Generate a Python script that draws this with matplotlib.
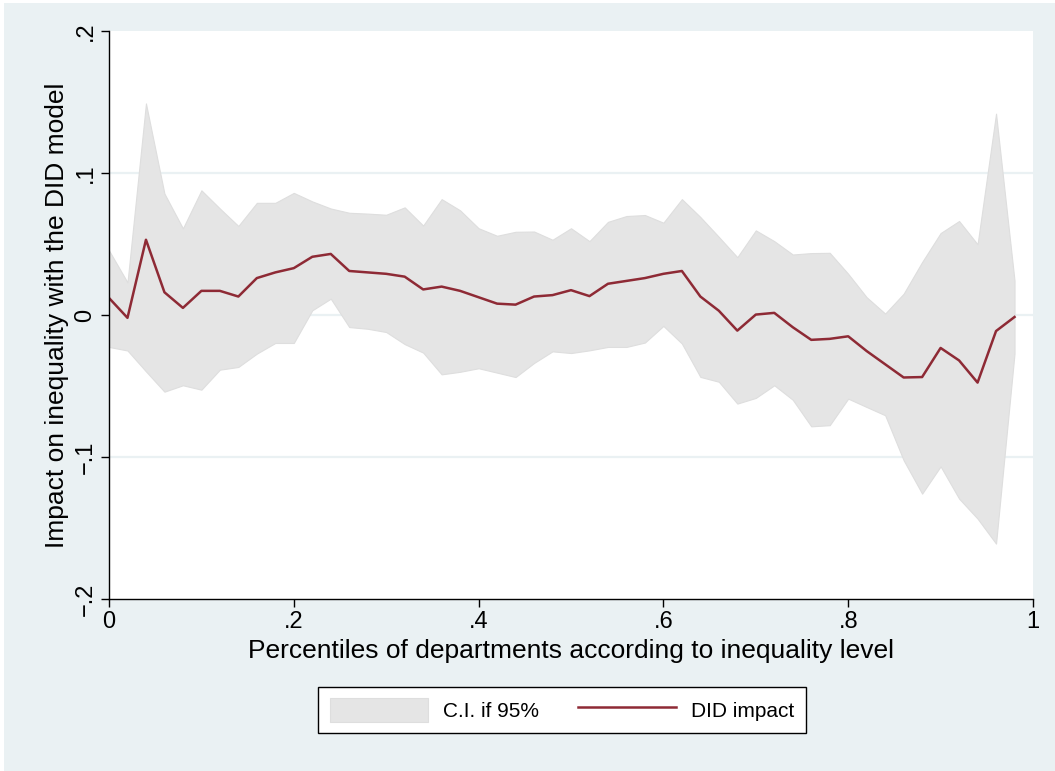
import matplotlib.pyplot as plt
import numpy as np
from matplotlib.patches import Rectangle

plt.rcParams['font.family'] = ['Liberation Sans', 'DejaVu Sans']

# percentiles of departments (0 .. 0.98, step 0.02)
pctile = [0.00, 0.02, 0.04, 0.06, 0.08, 0.10, 0.12, 0.14, 0.16, 0.18,
          0.20, 0.22, 0.24, 0.26, 0.28, 0.30, 0.32, 0.34, 0.36, 0.38,
          0.40, 0.42, 0.44, 0.46, 0.48, 0.50, 0.52, 0.54, 0.56, 0.58,
          0.60, 0.62, 0.64, 0.66, 0.68, 0.70, 0.72, 0.74, 0.76, 0.78,
          0.80, 0.82, 0.84, 0.86, 0.88, 0.90, 0.92, 0.94, 0.96, 0.98]

did_impact = [0.012, -0.002, 0.053, 0.016, 0.005, 0.017, 0.017, 0.013, 0.026, 0.030,
              0.033, 0.041, 0.043, 0.031, 0.030, 0.029, 0.027, 0.018, 0.020, 0.017,
              0.0125, 0.008, 0.0073, 0.013, 0.014, 0.0175, 0.0133, 0.022, 0.024, 0.026,
              0.029, 0.031, 0.013, 0.003, -0.011, 0.0003, 0.0015, -0.0086, -0.0175, -0.0168,
              -0.015, -0.0254, -0.0347, -0.044, -0.0437, -0.0232, -0.032, -0.0476, -0.0113, -0.0014]

ci_upper = [0.0455, 0.023, 0.149, 0.0855, 0.061, 0.0878, 0.075, 0.0627, 0.079, 0.079,
            0.086, 0.080, 0.075, 0.072, 0.0714, 0.0706, 0.0758, 0.063, 0.0816, 0.0737,
            0.0611, 0.0558, 0.0586, 0.0588, 0.053, 0.0611, 0.052, 0.0656, 0.0697, 0.0704,
            0.065, 0.0816, 0.069, 0.055, 0.0407, 0.0596, 0.052, 0.0426, 0.0436, 0.0438,
            0.029, 0.0125, 0.001, 0.015, 0.0373, 0.0577, 0.0662, 0.0498, 0.1418, 0.0243]

ci_lower = [-0.0225, -0.025, -0.0397, -0.054, -0.0495, -0.0526, -0.0385, -0.0366, -0.0272, -0.0197,
            -0.0197, 0.0033, 0.0115, -0.0085, -0.0097, -0.012, -0.0205, -0.0265, -0.0418, -0.040,
            -0.0375, -0.0406, -0.0437, -0.0338, -0.0256, -0.0268, -0.0249, -0.0225, -0.0225, -0.0194,
            -0.0077, -0.0201, -0.0436, -0.047, -0.0624, -0.0584, -0.0495, -0.0597, -0.0784, -0.0776,
            -0.0589, -0.0648, -0.0706, -0.1023, -0.1258, -0.1066, -0.1293, -0.1434, -0.161, -0.0272]

bg = '#EAF1F3'
fill_col = '#E5E5E5'
line_col = '#8E2A35'

fig = plt.figure(figsize=(10.55, 7.71), dpi=100, facecolor='white')
fig.patches.append(Rectangle((4 / 1055, 0), 1 - 4 / 1055, 1 - 3 / 771,
                             transform=fig.transFigure, facecolor=bg,
                             edgecolor='none', zorder=-10))

ax = fig.add_axes([109 / 1055, 1 - 599 / 771, (1033 - 109) / 1055, (599 - 31) / 771])
ax.set_facecolor('white')

for g in [-0.1, 0.0, 0.1]:
    ax.axhline(g, color=bg, lw=1.6, zorder=0)

ci = ax.fill_between(pctile, ci_lower, ci_upper, facecolor=fill_col,
                     edgecolor='#DEDEDE', lw=0.8, zorder=1, label='C.I. if 95%')
ln, = ax.plot(pctile, did_impact, color=line_col, lw=1.8, zorder=2, label='DID impact')

ax.set_xlim(0, 1)
ax.set_ylim(-0.2, 0.2)
ax.set_xticks([0, 0.2, 0.4, 0.6, 0.8, 1])
ax.set_xticklabels(['0', '.2', '.4', '.6', '.8', '1'])
ax.set_yticks([-0.2, -0.1, 0, 0.1, 0.2])
ax.set_yticklabels(['\u2212.2', '\u2212.1', '0', '.1', '.2'], rotation=90, va='center')

for s in ['top', 'right']:
    ax.spines[s].set_visible(False)
for s in ['left', 'bottom']:
    ax.spines[s].set_color('black')
    ax.spines[s].set_linewidth(1.0)
ax.tick_params(direction='out', length=6, width=1.0, colors='black',
               labelsize=17, pad=3)

ax.set_xlabel('Percentiles of departments according to inequality level',
              fontsize=19, labelpad=4)
ax.set_ylabel('Impact on inequality with the DID model', fontsize=19, labelpad=4)

leg = fig.legend(handles=[ci, ln], loc='center',
                 bbox_to_anchor=(562 / 1055, 1 - 710 / 771), ncol=2,
                 fontsize=15, frameon=True, fancybox=False, edgecolor='black',
                 framealpha=1, handlelength=4.7, handleheight=1.4,
                 columnspacing=1.9, handletextpad=0.72, borderpad=0.55,
                 borderaxespad=0)
leg.get_frame().set_linewidth(1.0)

fig.savefig('out.png', dpi=100, facecolor=fig.get_facecolor())
